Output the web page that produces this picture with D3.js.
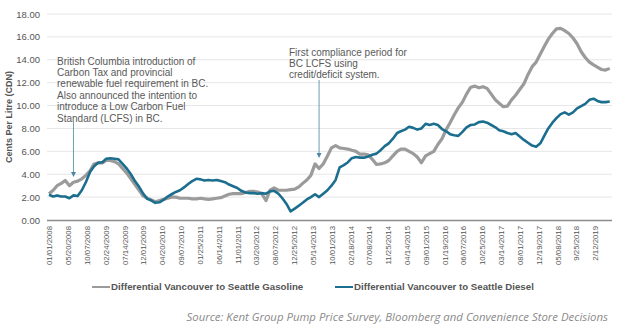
<!DOCTYPE html>
<html>
<head>
<meta charset="utf-8">
<script src="https://cdn.jsdelivr.net/npm/d3@7"></script>
<style>
  body { margin: 0; background: #fff; }
  text { font-family: "Liberation Sans", Arial, sans-serif; }
</style>
</head>
<body>
<div id="chart"></div>
<script>
// Monthly differential, cents per litre (CDN), Jan 2008 - Jun 2019
const gasoline = [
  2.3, 2.6, 3.0, 3.2, 3.45, 3.0, 3.3, 3.4, 3.6, 3.9,
  4.3, 4.9, 5.0, 5.0, 5.2, 5.2, 5.1, 4.9, 4.5, 4.1,
  3.6, 3.1, 2.6, 2.1, 1.9, 1.75, 1.6, 1.7, 1.8, 1.9,
  2.0, 2.0, 1.9, 1.9, 1.9, 1.85, 1.85, 1.9, 1.85, 1.8,
  1.85, 1.9, 1.95, 2.1, 2.25, 2.3, 2.3, 2.3, 2.4, 2.5,
  2.5, 2.45, 2.3, 1.7, 2.6, 2.8, 2.6, 2.6, 2.6, 2.65,
  2.7, 2.9, 3.2, 3.5, 3.9, 4.9, 4.5, 4.9, 5.6, 6.3,
  6.5, 6.3, 6.25, 6.2, 6.1, 6.0, 5.75, 5.75, 5.7, 5.3,
  4.85, 4.9, 5.0, 5.2, 5.6, 6.0, 6.2, 6.2, 6.0, 5.8,
  5.5, 5.0, 5.6, 5.8, 6.0, 6.6, 7.1, 7.9, 8.5, 9.2,
  9.8, 10.3, 11.0, 11.6, 11.7, 11.55, 11.65, 11.5, 11.0, 10.5,
  10.2, 9.9, 9.95, 10.5, 10.9, 11.4, 11.9, 12.7, 13.4, 13.8,
  14.5, 15.2, 15.8, 16.3, 16.7, 16.75, 16.55, 16.3, 15.9, 15.4,
  14.7, 14.2, 13.8, 13.55, 13.35, 13.15, 13.1, 13.25
];

const diesel = [
  2.2, 2.05, 2.15, 2.05, 2.05, 1.9, 2.15, 2.1, 2.6, 3.3,
  4.2, 4.7, 5.0, 5.05, 5.35, 5.4, 5.35, 5.3, 4.9, 4.5,
  4.0, 3.4, 2.9, 2.3, 1.85, 1.7, 1.5, 1.55, 1.75, 2.05,
  2.25, 2.45, 2.6, 2.85, 3.15, 3.4, 3.6, 3.55, 3.45, 3.5,
  3.45, 3.5, 3.4, 3.3, 3.1, 2.95, 2.8, 2.55, 2.4, 2.35,
  2.35, 2.3, 2.35, 2.3, 2.5, 2.55, 2.3, 1.9, 1.4, 0.75,
  1.0, 1.25, 1.5, 1.8, 2.0, 2.25, 2.0, 2.3, 2.6, 3.0,
  3.5, 4.6, 4.8, 5.05, 5.4, 5.5, 5.45, 5.45, 5.55, 5.7,
  5.8, 6.1, 6.45, 6.7, 7.1, 7.6, 7.75, 7.9, 8.15, 8.05,
  7.9, 8.0, 8.4, 8.3, 8.4, 8.3, 7.95, 7.75, 7.5, 7.4,
  7.35, 7.7, 8.1, 8.3, 8.35, 8.55, 8.6, 8.5, 8.3, 8.1,
  7.85, 7.75, 7.6, 7.5, 7.6, 7.3, 7.0, 6.75, 6.5, 6.4,
  6.7, 7.4, 8.0, 8.5, 8.9, 9.25, 9.4, 9.2, 9.4, 9.75,
  9.95, 10.15, 10.5, 10.6, 10.4, 10.3, 10.3, 10.35
];

const tickLabels = [
  "01/01/2008", "05/20/2008", "10/07/2008", "02/24/2009", "07/14/2009",
  "12/01/2009", "04/20/2010", "09/07/2010", "01/25/2011", "06/14/2011",
  "11/01/2011", "03/20/2012", "08/07/2012", "12/25/2012", "05/14/2013",
  "10/01/2013", "02/18/2014", "07/08/2014", "11/25/2014", "04/14/2015",
  "09/01/2015", "01/19/2016", "06/07/2016", "10/25/2016", "03/14/2017",
  "08/01/2017", "12/19/2017", "05/08/2018", "9/25/2018", "2/12/2019"
];

const seriesNames = [
  "Differential Vancouver to Seattle Gasoline",
  "Differential Vancouver to Seattle Diesel"
];
const colors = ["#9b9b9b", "#1b6e8e"];

const yTicks = [0, 2, 4, 6, 8, 10, 12, 14, 16, 18];

const notes = [
  { date: "07/01/2008", lines: ["British Columbia introduction of", "Carbon Tax and provincial",
      "renewable fuel requirement in BC.", "Also announced the intention to",
      "introduce a Low Carbon Fuel", "Standard (LCFS) in BC."] },
  { date: "07/01/2013", lines: ["First compliance period for", "BC LCFS using", "credit/deficit system."] }
];

const width = 619, height = 330;
const parse = d3.timeParse("%m/%d/%Y");
const months = d3.timeMonth.range(new Date(2008, 0, 1), new Date(2019, 6, 1));
const tickDates = tickLabels.map(parse);

const svg = d3.select("#chart").append("svg")
  .attr("width", width)
  .attr("height", height);

// Scales
const start = new Date(2008, 0, 1), end = new Date(2019, 5, 1);
const pxPerDay = 18.83 / 140;
const x = d3.scaleTime()
  .domain([start, end])
  .range([49, 49 + d3.timeDay.count(start, end) * pxPerDay]);

const y = d3.scaleLinear()
  .domain([0, 18])
  .range([220, 14]);

const left = 47, right = 612;

// Gridlines
svg.append("g")
  .selectAll("line")
  .data(yTicks.filter(d => d > 0))
  .enter()
  .append("line")
  .attr("x1", left)
  .attr("x2", right)
  .attr("y1", d => y(d))
  .attr("y2", d => y(d))
  .attr("stroke", "#e6e6e6")
  .attr("stroke-width", 1);

// Y axis
const yAxis = svg.append("g")
  .attr("transform", `translate(${left - 4},0)`)
  .call(d3.axisLeft(y).tickValues(yTicks).tickFormat(d3.format(".2f")).tickSize(0));
yAxis.select(".domain").remove();
yAxis.selectAll("text")
  .style("font-size", "9.5px")
  .style("font-family", "Liberation Sans, Arial, sans-serif")
  .attr("fill", "#555");

// X axis
const xAxis = svg.append("g")
  .attr("transform", "translate(0,220)")
  .call(d3.axisBottom(x).tickValues(tickDates).tickFormat((d, i) => tickLabels[i]).tickSize(0));
xAxis.select(".domain").remove();
xAxis.selectAll("text")
  .attr("transform", "translate(0,6)rotate(-90)")
  .attr("x", 0)
  .attr("y", 0)
  .attr("dy", "0.35em")
  .style("text-anchor", "end")
  .style("font-size", "7.8px")
  .style("font-family", "Liberation Sans, Arial, sans-serif")
  .attr("fill", "#555");

svg.append("line")
  .attr("x1", left)
  .attr("x2", right)
  .attr("y1", 220.5)
  .attr("y2", 220.5)
  .attr("stroke", "#8c8c8c")
  .attr("stroke-width", 1.5);

// Y axis title
svg.append("text")
  .attr("transform", `translate(12,${y(9)})rotate(-90)`)
  .attr("text-anchor", "middle")
  .style("font-size", "9px")
  .style("font-weight", "bold")
  .attr("fill", "#555")
  .text("Cents Per Litre (CDN)");

// Lines
const line = d3.line()
  .x((d, i) => x(months[i]))
  .y(d => y(d));

[gasoline, diesel].forEach((series, k) => {
  svg.append("path")
    .datum(series)
    .attr("fill", "none")
    .attr("stroke", colors[k])
    .attr("stroke-width", k === 0 ? 3.2 : 2.6)
    .attr("stroke-linejoin", "round")
    .attr("d", line);
});

// Annotations
const textX = [57, 289];
const textY = [61, 52];
const arrowTop = [122, 80];
const arrowTip = [177, 158];

notes.forEach((note, k) => {
  const t = svg.append("text")
    .attr("x", textX[k])
    .attr("y", textY[k])
    .style("font-size", "10px")
    .attr("fill", "#595959");
  note.lines.forEach((l, i) => {
    t.append("tspan")
      .attr("x", textX[k])
      .attr("dy", i === 0 ? "0.35em" : "1.14em")
      .text(l);
  });

  const ax = x(parse(note.date));
  svg.append("line")
    .attr("x1", ax)
    .attr("x2", ax)
    .attr("y1", arrowTop[k])
    .attr("y2", arrowTip[k] - 4)
    .attr("stroke", "#5e93ad")
    .attr("stroke-width", 0.9);
  svg.append("path")
    .attr("d", `M${ax - 2.5},${arrowTip[k] - 5}L${ax + 2.5},${arrowTip[k] - 5}L${ax},${arrowTip[k]}Z`)
    .attr("fill", "#4f86a3");
});

// Legend
const legendX = [92, 335];
seriesNames.forEach((name, k) => {
  svg.append("line")
    .attr("x1", legendX[k])
    .attr("x2", legendX[k] + 18)
    .attr("y1", 287)
    .attr("y2", 287)
    .attr("stroke", colors[k])
    .attr("stroke-width", 2);
  svg.append("text")
    .attr("x", legendX[k] + 19)
    .attr("y", 287)
    .attr("dy", "0.35em")
    .style("font-size", "9.7px")
    .style("font-weight", "bold")
    .attr("fill", "#555")
    .text(name);
});

// Source
svg.append("text")
  .attr("x", 608)
  .attr("y", 317)
  .attr("dy", "0.35em")
  .attr("text-anchor", "end")
  .style("font-family", "Open Sans, sans-serif")
  .style("font-style", "italic")
  .style("font-size", "11.4px")
  .attr("fill", "#8a8a8a")
  .text("Source: Kent Group Pump Price Survey, Bloomberg and Convenience Store Decisions");
</script>
</body>
</html>
